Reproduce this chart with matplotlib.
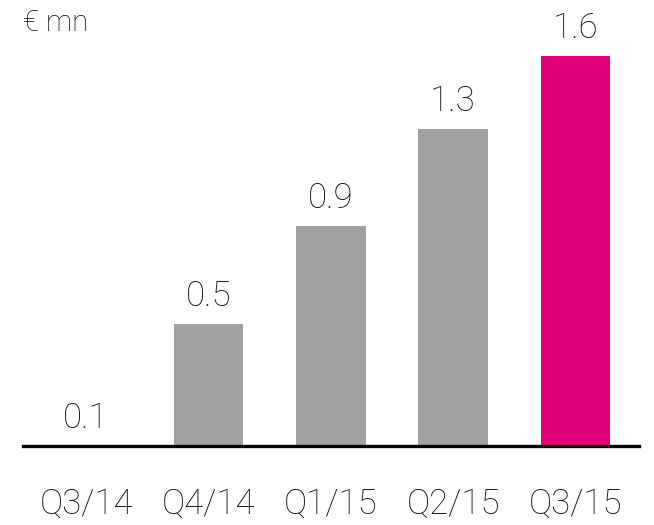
#!/usr/bin/env python3
import matplotlib
matplotlib.use("Agg")
import matplotlib.pyplot as plt
import numpy as np

quarters = ["Q3/14", "Q4/14", "Q1/15", "Q2/15", "Q3/15"]
values = [0.1, 0.5, 0.9, 1.3, 1.6]
# the first bar is not drawn in the source chart (sits on the baseline)
bar_heights = [0.0, 0.5, 0.9, 1.3, 1.6]
unit = "€ mn"

GREY = "#A0A0A0"
MAGENTA = "#E2007A"


def main():
    plt.rcParams["font.family"] = ["Roboto", "DejaVu Sans"]
    plt.rcParams["font.weight"] = "light"

    fig = plt.figure(figsize=(6.54, 5.25), dpi=100)
    ax = fig.add_axes([0.0352, 0.1505, 0.942, 0.813])

    x = np.arange(len(quarters))
    colors = [GREY] * (len(quarters) - 1) + [MAGENTA]
    ax.bar(x, bar_heights, width=0.57, color=colors, zorder=2)

    for xi, h, v in zip(x, bar_heights, values):
        ax.annotate(f"{v:.1f}", (xi, h), xytext=(0, 8), textcoords="offset points",
                    ha="center", va="bottom", fontsize=25, color="#111111")

    ax.set_xlim(-0.515, 4.52)
    ax.set_ylim(0, 1.75)
    ax.set_xticks(x)
    ax.set_xticklabels(quarters, fontsize=25, color="#111111")
    ax.tick_params(axis="x", length=0, pad=30)
    ax.set_yticks([])
    for side in ("top", "right", "left"):
        ax.spines[side].set_visible(False)
    ax.spines["bottom"].set_linewidth(2.4)
    ax.spines["bottom"].set_color("black")
    ax.spines["bottom"].set_zorder(3)

    fig.text(23 / 654, 1 - 9 / 525, unit, ha="left", va="top", fontsize=21, color="#111111")

    fig.savefig("out.png", dpi=100)
    plt.close(fig)


if __name__ == "__main__":
    main()
